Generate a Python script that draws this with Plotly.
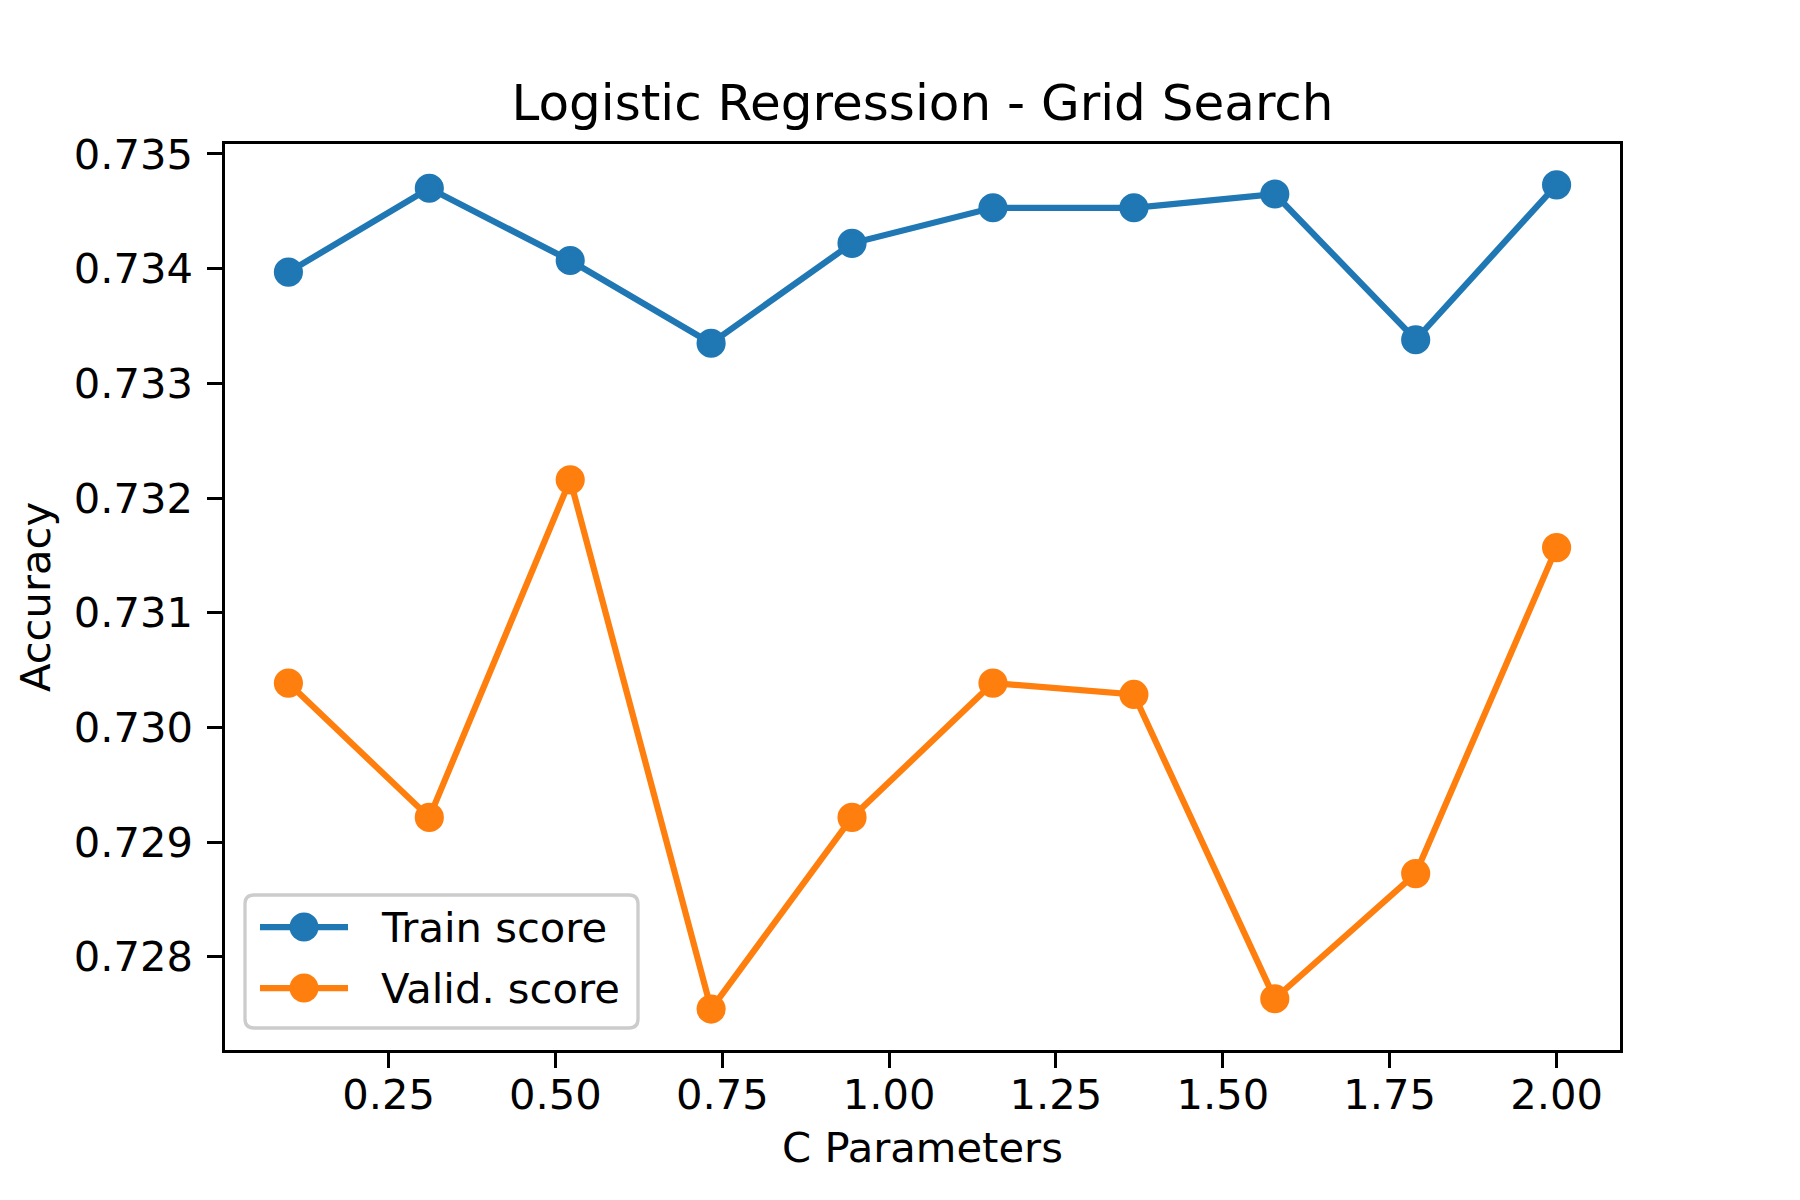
import plotly.graph_objects as go

c_params = [0.1, 0.3111, 0.5222, 0.7333, 0.9444, 1.1556, 1.3667, 1.5778, 1.7889, 2.0]
train_score = [0.733970, 0.734701, 0.734071, 0.733350, 0.734221,
               0.734531, 0.734531, 0.734651, 0.733380, 0.734731]
valid_score = [0.730387, 0.729216, 0.732159, 0.727545, 0.729216,
               0.730387, 0.730288, 0.727635, 0.728726, 0.731568]
x_ticks = [0.25, 0.50, 0.75, 1.00, 1.25, 1.50, 1.75, 2.00]
y_ticks = [0.728, 0.729, 0.730, 0.731, 0.732, 0.733, 0.734, 0.735]
series_names = ["Train score", "Valid. score"]
series_colors = ["#1f77b4", "#ff7f0e"]

FONT = "DejaVu Sans"
PT = 300 / 72.0

# plot-area geometry (pixels)
L, R, T, B = 225, 1620, 144, 1050
W, H = R - L, B - T


def px_x(px):
    return (px - L) / W


def px_y(py):
    return (B - py) / H


fig = go.Figure()
for name, vals, col in zip(series_names, [train_score, valid_score], series_colors):
    fig.add_trace(go.Scatter(
        x=c_params, y=vals, name=name, mode="lines+markers",
        line=dict(color=col, width=1.5 * PT),
        marker=dict(color=col, size=6 * PT, line=dict(color=col, width=1 * PT)),
        showlegend=False,
    ))

axis_common = dict(
    showline=True, mirror=True, linecolor="black", linewidth=0.8 * PT,
    ticks="outside", ticklen=3.5 * PT, tickwidth=0.8 * PT, tickcolor="black",
    showgrid=False, zeroline=False,
    tickfont=dict(family=FONT, size=10 * PT, color="black"),
    automargin=False,
)

# ---- legend drawn matplotlib-style (box, handles, labels) ----
shapes = []
annotations = []
bx0, by0, bx1, by1, rad = 245, 895, 638, 1028, 9
rx, ry = rad / W, rad / H
x0, x1 = px_x(bx0), px_x(bx1)
y0, y1 = px_y(by1), px_y(by0)
path = (f"M{x0 + rx},{y1} L{x1 - rx},{y1} Q{x1},{y1} {x1},{y1 - ry} "
        f"L{x1},{y0 + ry} Q{x1},{y0} {x1 - rx},{y0} L{x0 + rx},{y0} "
        f"Q{x0},{y0} {x0},{y0 + ry} L{x0},{y1 - ry} Q{x0},{y1} {x0 + rx},{y1} Z")
shapes.append(dict(type="path", path=path, xref="paper", yref="paper",
                   fillcolor="rgba(255,255,255,0.8)",
                   line=dict(color="#cccccc", width=0.8 * PT), layer="above"))
handle_rows = [927, 988]
for name, col, py in zip(series_names, series_colors, handle_rows):
    shapes.append(dict(type="line", xref="paper", yref="paper",
                       x0=px_x(260), x1=px_x(348), y0=px_y(py), y1=px_y(py),
                       line=dict(color=col, width=1.5 * PT), layer="above"))
    shapes.append(dict(type="circle", xref="paper", yref="paper",
                       xsizemode="pixel", ysizemode="pixel",
                       xanchor=px_x(304), yanchor=px_y(py),
                       x0=-14.5, x1=14.5, y0=-14.5, y1=14.5,
                       fillcolor=col, line=dict(color=col, width=0), layer="above"))
    annotations.append(dict(text=name, xref="paper", yref="paper",
                            x=px_x(379), y=px_y(py), xanchor="left", yanchor="middle",
                            showarrow=False,
                            font=dict(family=FONT, size=10 * PT, color="black")))

fig.update_layout(
    width=1800, height=1200,
    margin=dict(l=L, r=1800 - R, t=T, b=1200 - B, pad=0),
    paper_bgcolor="white", plot_bgcolor="white",
    font=dict(family=FONT, color="black"),
    title=dict(text="Logistic Regression - Grid Search",
               font=dict(family=FONT, size=12 * PT, color="black"),
               x=0.5, xref="paper", xanchor="center",
               y=1, yref="paper", yanchor="bottom", pad=dict(b=24)),
    xaxis=dict(range=[0.005, 2.095], tickvals=x_ticks, tickformat=".2f",
               title=dict(text="C Parameters", standoff=16,
                          font=dict(family=FONT, size=10 * PT, color="black")),
               ticklabelstandoff=-9, **axis_common),
    yaxis=dict(range=[0.727188, 0.735087], tickvals=y_ticks, tickformat=".3f",
               title=dict(text="Accuracy", standoff=11,
                          font=dict(family=FONT, size=10 * PT, color="black")),
               ticklabelstandoff=6, **axis_common),
    shapes=shapes,
    annotations=annotations,
    showlegend=False,
)

fig.write_html("out.html")
